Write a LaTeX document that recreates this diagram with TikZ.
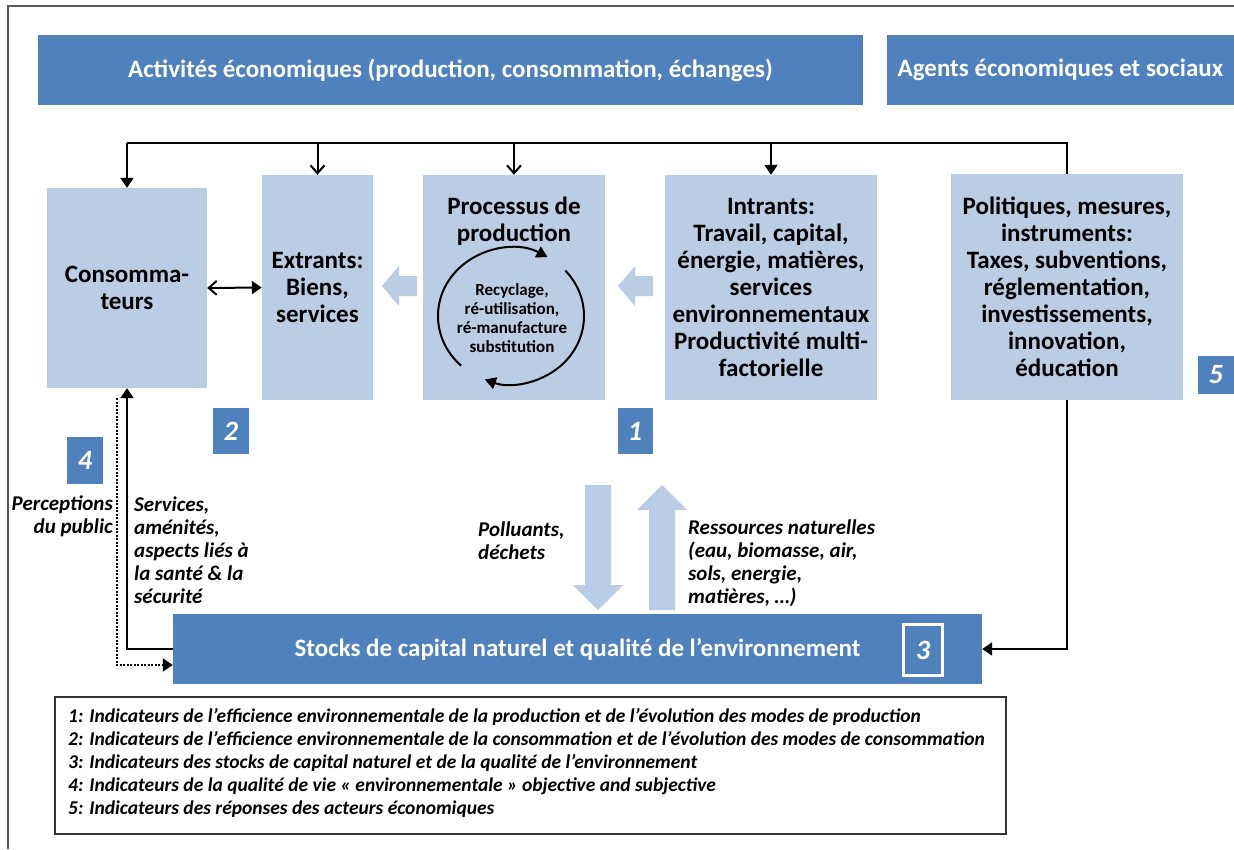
\documentclass[tikz,border=0pt]{standalone}
\usepackage{fontspec}
\setmainfont{Carlito}
\usetikzlibrary{arrows.meta}
\definecolor{dblue}{HTML}{4F81BD}
\definecolor{lblue}{HTML}{B9CDE5}
\begin{document}
\begin{tikzpicture}[x=1pt,y=-1pt,
  banner/.style={fill=dblue,text=white,font=\fontsize{25}{28}\selectfont\bfseries,inner sep=0},
  lbox/.style={fill=lblue,align=center,font=\fontsize{25}{27}\selectfont\bfseries,inner sep=0},
  badge/.style={fill=dblue,text=white,font=\fontsize{28}{30}\selectfont\bfseries\itshape,inner sep=0},
  conn/.style={line width=2pt},
  tri/.style={-{Triangle[length=10pt,width=13pt]}},
  barb/.style={-{Straight Barb[length=8pt,width=14pt]}},
  lab/.style={font=\fontsize{21}{23}\selectfont\bfseries\itshape,inner sep=0},
  legtext/.style={font=\fontsize{19.5}{23}\selectfont\bfseries\itshape,inner sep=0,align=left}
]
\useasboundingbox (0,0) rectangle (1234,849);
\draw[black!65,line width=1.5pt] (8,849) -- (8,6) -- (1234,6);

% banners
\node[banner,minimum width=825,minimum height=70] (act) at (450.5,70) {Activités économiques (production, consommation, échanges)};
\node[banner,minimum width=347,minimum height=70] (agents) at (1060.5,70) {Agents économiques et sociaux};

% boxes
\node[lbox,minimum width=160,minimum height=200] (cons) at (127,288) {Consomma-\\teurs};
\node[lbox,minimum width=111,minimum height=225] (ext) at (317.5,287.5) {Extrants:\\Biens,\\services};
\node[lbox,minimum width=182,minimum height=225] (proc) at (514,287.5) {};
\node[lbox,minimum width=212,minimum height=225] (intr) at (771,287.5) {Intrants:\\Travail, capital,\\énergie, matières,\\services\\environnementaux\\Productivité multi-\\factorielle};
\node[lbox,minimum width=232,minimum height=226] (pol) at (1067,287) {Politiques, mesures,\\instruments:\\Taxes, subventions,\\réglementation,\\investissements,\\innovation,\\éducation};

\node[font=\fontsize{25}{27}\selectfont\bfseries,align=center,inner sep=0] (ptitle) at (514,221.5) {Processus de\\production};
\node[font=\fontsize{17}{19}\selectfont\bfseries,align=center,inner sep=0] (recyc) at (512,318.5) {Recyclage,\\ré-utilisation,\\ré-manufacture\\substitution};
\coordinate (cc) at (511,316);
\draw[line width=2pt,-{Triangle[length=11pt,width=12pt]}] ([shift={(-227:73 and 68)}]cc) arc[start angle=-227,end angle=-60,x radius=73,y radius=68];
\draw[line width=2pt,-{Triangle[length=11pt,width=12pt]}] ([shift={(-42:73 and 68)}]cc) arc[start angle=-42,end angle=111,x radius=73,y radius=68];

% block arrows
\fill[lblue] (382,286) -- (399,266) -- (399,276) -- (417,276) -- (417,296) -- (399,296) -- (399,306) -- cycle;
\fill[lblue] (618,286) -- (635,266) -- (635,276) -- (653,276) -- (653,296) -- (635,296) -- (635,306) -- cycle;
\fill[lblue] (585,485) -- (611,485) -- (611,585) -- (623,585) -- (598,610) -- (573,585) -- (585,585) -- cycle;
\fill[lblue] (662,485) -- (687,510) -- (675,510) -- (675,610) -- (649,610) -- (649,510) -- (637,510) -- cycle;

% stocks
\node[banner,minimum width=809,minimum height=70] (stocks) at (577.5,649) {Stocks de capital naturel et qualité de l’environnement};
\node[badge,draw=white,line width=2.5pt,minimum width=39,minimum height=51] (b3) at (923,650) {3};

% badges
\node[badge,minimum width=36,minimum height=46] (b2) at (231,431) {2};
\node[badge,minimum width=35,minimum height=46] (b1) at (635,431) {1};
\node[badge,minimum width=36,minimum height=38] (b5) at (1216,375) {5};
\node[badge,minimum width=36,minimum height=47] (b4) at (85,460.5) {4};

% labels
\node[lab,align=right,anchor=east] (perc) at (113,516) {Perceptions\\du public};
\node[lab,align=left,anchor=west] (serv) at (134,550) {Services,\\aménités,\\aspects liés à\\la santé \& la\\sécurité};
\node[lab,align=left,anchor=west] (poll) at (478,541) {Polluants,\\déchets};
\node[lab,align=left,anchor=west] (ress) at (688,563.5) {Ressources naturelles\\(eau, biomasse, air,\\sols, energie,\\matières, …)};

% connectors
\coordinate (busL) at (127,143);
\coordinate (busR) at (1067,143);
\draw[conn] (pol.north) -- (busR) -- (busL);
\draw[conn,tri] (busL) -- (cons.north);
\draw[conn,barb] (ext.north |- busL) -- (ext.north);
\draw[conn,barb] (proc.north |- busL) -- (proc.north);
\draw[conn,tri] (intr.north |- busL) -- (intr.north);
\draw[conn,tri] (pol.south) |- (stocks.east);
\draw[conn,{Straight Barb[length=8pt,width=14pt]}-{Triangle[length=10pt,width=13pt]}] (cons.east) -- (ext.west);
\draw[conn,tri] (stocks.west) -| (cons.south);
\coordinate (dtop) at (117,398);
\draw[conn,dash pattern=on 2pt off 1.5pt,-{Triangle[length=10pt,width=13pt]}] (dtop) |- ([yshift=-16pt]stocks.west);

% legend
\node[draw=black!80,line width=1.3pt,minimum width=951,minimum height=137,inner sep=0] (leg) at (530.5,765.5) {};
\node[legtext,anchor=west] (legt) at (68,762.5) {1: Indicateurs de l’efficience environnementale de la production et de l’évolution des modes de production\\
2: Indicateurs de l’efficience environnementale de la consommation et de l’évolution des modes de consommation\\
3: Indicateurs des stocks de capital naturel et de la qualité de l’environnement\\
4: Indicateurs de la qualité de vie « environnementale » objective and subjective\\
5: Indicateurs des réponses des acteurs économiques};
\end{tikzpicture}
\end{document}
